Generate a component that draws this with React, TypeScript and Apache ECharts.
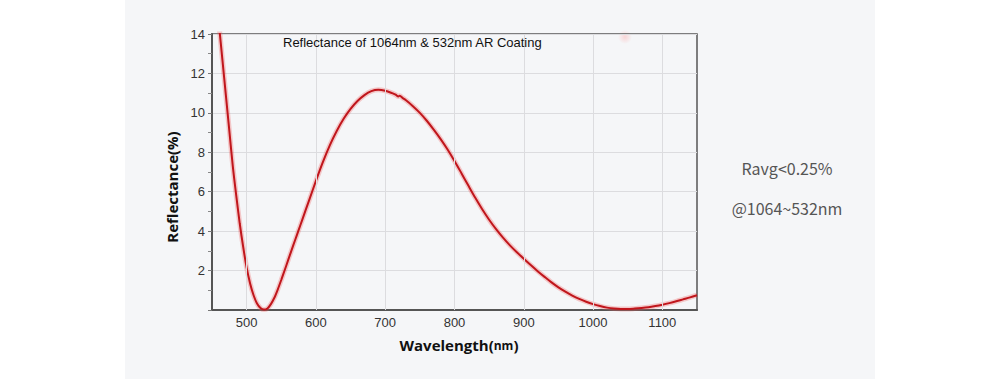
import React, { useEffect, useRef } from "react";
import * as echarts from "echarts";

const wavelengths = [
  455, 460, 465, 470, 475, 480, 485, 490, 495, 500, 505, 510, 515, 520, 525, 530,
  535, 540, 545, 550, 555, 560, 565, 570, 575, 580, 590, 600, 610, 620, 630, 640,
  650, 660, 670, 680, 690, 700, 710, 715, 719, 721, 725, 730, 740, 750, 760, 770,
  780, 790, 800, 810, 820, 830, 840, 850, 860, 870, 880, 890, 900, 910, 920, 930,
  940, 950, 960, 970, 980, 990, 1000, 1010, 1020, 1030, 1040, 1050, 1060, 1070,
  1080, 1090, 1100, 1110, 1120, 1130, 1140, 1150,
];
const reflectance = [
  16.4, 14.5, 12.7, 10.9, 9.1, 7.3, 5.8, 4.4, 3.2, 2.15, 1.35, 0.75, 0.33, 0.1, 0.02, 0.08,
  0.3, 0.62, 1.05, 1.53, 2.03, 2.54, 3.05, 3.55, 4.05, 4.55, 5.55, 6.55, 7.5, 8.35, 9.08, 9.7,
  10.2, 10.6, 10.9, 11.1, 11.17, 11.12, 11.0, 10.92, 10.83, 10.87, 10.76, 10.64, 10.34, 10.0, 9.6, 9.15,
  8.67, 8.14, 7.56, 6.94, 6.31, 5.69, 5.11, 4.58, 4.1, 3.67, 3.28, 2.93, 2.6, 2.28, 1.97, 1.68,
  1.4, 1.15, 0.93, 0.73, 0.56, 0.42, 0.3, 0.2, 0.12, 0.07, 0.05, 0.05, 0.07, 0.1,
  0.14, 0.2, 0.27, 0.35, 0.44, 0.54, 0.64, 0.75,
];
const xTickLabels = [500, 600, 700, 800, 900, 1000, 1100];
const yTickLabels = [2, 4, 6, 8, 10, 12, 14];

const chartTitle = "Reflectance of 1064nm & 532nm AR Coating";
const noteLines = ["Ravg<0.25%", "@1064~532nm"];

export default function App() {
  const ref = useRef<HTMLDivElement>(null);
  useEffect(() => {
    if (!ref.current) return;
    const chart = echarts.init(ref.current, undefined, { renderer: "svg" });
    const data = wavelengths.map((w, i) => [w, reflectance[i]]);
    chart.setOption({
      animation: false,
      backgroundColor: "#ffffff",
      title: {
        text: chartTitle,
        left: 283,
        top: 36,
        padding: 0,
        textStyle: {
          fontFamily: "Liberation Sans, Arial, sans-serif",
          fontSize: 13,
          fontWeight: "normal",
          color: "#111",
        },
      },
      grid: {
        left: 212,
        right: 303,
        top: 34,
        bottom: 69,
        show: true,
        borderColor: "#555",
        borderWidth: 1.5,
        backgroundColor: "transparent",
      },
      xAxis: {
        type: "value",
        min: 450,
        max: 1150,
        interval: 50,
        axisLine: { show: true, lineStyle: { color: "#555", width: 2 } },
        axisTick: { show: false },
        splitLine: { show: false },
        axisLabel: {
          margin: 6,
          fontFamily: "Liberation Sans, Arial, sans-serif",
          fontSize: 13,
          color: "#333",
          formatter: (v: number) => (xTickLabels.includes(v) ? String(v) : ""),
        },
      },
      yAxis: {
        type: "value",
        min: 0,
        max: 14,
        interval: 2,
        axisLine: { show: true, lineStyle: { color: "#555", width: 2 } },
        axisTick: { show: true, length: 4, lineStyle: { color: "#777" } },
        minorTick: { show: true, splitNumber: 2, length: 4, lineStyle: { color: "#888" } },
        splitLine: { show: true, lineStyle: { color: "#dcdcdf", width: 1 } },
        axisLabel: {
          margin: 7,
          fontFamily: "Liberation Sans, Arial, sans-serif",
          fontSize: 13,
          color: "#333",
          formatter: (v: number) => (yTickLabels.includes(v) ? String(v) : ""),
        },
      },
      graphic: [
        {
          type: "rect",
          z: -10,
          shape: { x: 125, y: 0, width: 750, height: 379 },
          style: { fill: "#f5f6f8" },
        },
        {
          type: "circle",
          z: -5,
          shape: { cx: 625, cy: 37, r: 7 },
          style: {
            fill: {
              type: "radial",
              x: 0.5,
              y: 0.5,
              r: 0.5,
              colorStops: [
                { offset: 0, color: "rgba(255,150,150,0.35)" },
                { offset: 1, color: "rgba(255,150,150,0)" },
              ],
            },
          },
        },
        {
          type: "text",
          x: 172,
          y: 187,
          rotation: Math.PI / 2,
          style: {
            text: "Reflectance(%)",
            align: "center",
            verticalAlign: "middle",
            font: "bold 15px 'Open Sans', 'Liberation Sans', sans-serif",
            fill: "#111",
          },
        },
        {
          type: "text",
          x: 459,
          y: 345,
          style: {
            text: "{a|Wavelength}{b|(}{c|nm}{b|)}",
            align: "center",
            verticalAlign: "middle",
            rich: {
              a: { fontFamily: "Open Sans", fontWeight: "bold", fontSize: 15, fill: "#111" },
              b: { fontFamily: "Open Sans", fontWeight: "bold", fontSize: 15, fill: "#111" },
              c: { fontFamily: "Open Sans", fontWeight: "bold", fontSize: 12, fill: "#111" },
            },
          },
        },
        {
          type: "text",
          x: 787,
          y: 168,
          style: {
            text: noteLines[0],
            align: "center",
            verticalAlign: "middle",
            font: "16px 'Noto Sans CJK SC', 'Noto Sans', sans-serif",
            fill: "#555",
          },
        },
        {
          type: "text",
          x: 787,
          y: 208,
          style: {
            text: noteLines[1],
            align: "center",
            verticalAlign: "middle",
            font: "16px 'Noto Sans CJK SC', 'Noto Sans', sans-serif",
            fill: "#555",
          },
        },
      ],
      series: [
        {
          type: "scatter",
          data: [],
          z: 1,
          silent: true,
          markLine: {
            silent: true,
            symbol: "none",
            label: { show: false },
            lineStyle: { color: "#dcdcdf", width: 1, type: "solid" },
            data: xTickLabels.map((v) => ({ xAxis: v })),
          },
        },
        {
          type: "line",
          data,
          z: 3,
          smooth: 0.3,
          showSymbol: false,
          silent: true,
          lineStyle: { color: "rgba(240,90,90,0.3)", width: 5 },
        },
        {
          type: "line",
          data,
          z: 4,
          smooth: 0.3,
          showSymbol: false,
          silent: true,
          lineStyle: { color: "#c0161c", width: 2 },
        },
      ],
    });
    return () => chart.dispose();
  }, []);
  return (
    <div
      ref={ref}
      style={{ position: "fixed", left: 0, top: 0, width: 1000, height: 379 }}
    />
  );
}
